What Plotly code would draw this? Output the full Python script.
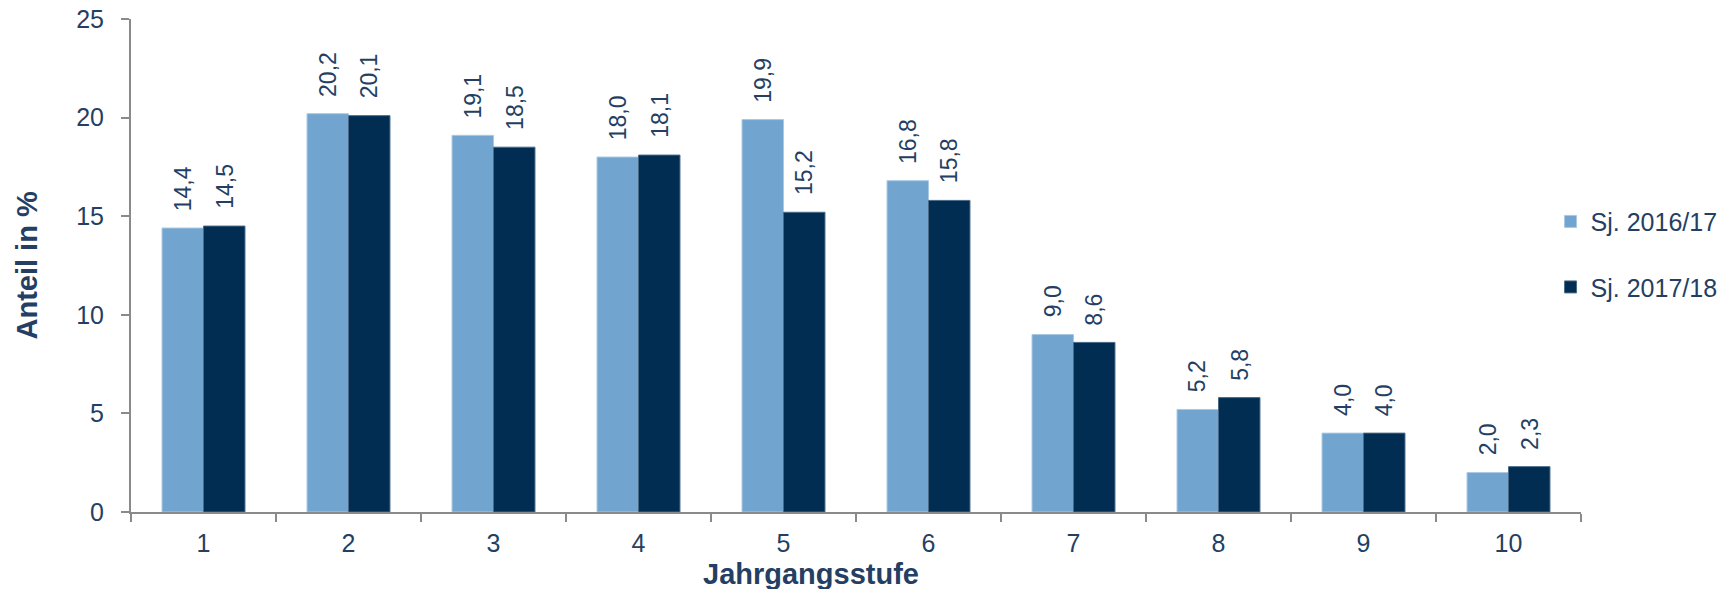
import plotly.graph_objects as go

categories = ["1", "2", "3", "4", "5", "6", "7", "8", "9", "10"]
series_names = ["Sj. 2016/17", "Sj. 2017/18"]
values_1617 = [14.4, 20.2, 19.1, 18.0, 19.9, 16.8, 9.0, 5.2, 4.0, 2.0]
values_1718 = [14.5, 20.1, 18.5, 18.1, 15.2, 15.8, 8.6, 5.8, 4.0, 2.3]
y_ticks = [0, 5, 10, 15, 20, 25]
x_title = "Jahrgangsstufe"
y_title = "Anteil in %"

LIGHT = "#71A5CF"
DARK = "#012D52"
TEXT = "#243F63"
AXIS = "#8A8A8A"
FONT = "Liberation Sans, Arial, sans-serif"

def fmt(v):
    return f"{v:.1f}".replace(".", ",")

fig = go.Figure()
for name, vals, col, lc in [(series_names[0], values_1617, LIGHT, "#A9C9E3"),
                            (series_names[1], values_1718, DARK, "#4A6A88")]:
    fig.add_trace(go.Bar(
        x=categories, y=vals, name=name, legendgroup=name,
        marker=dict(color=col, line=dict(color=lc, width=1)),
        hoverinfo="skip",
    ))

annotations = []
bar_off = 0.143
for i, c in enumerate(categories):
    for vals, off in [(values_1617, -bar_off), (values_1718, bar_off)]:
        annotations.append(dict(
            x=i + off, y=vals[i], xref="x", yref="y",
            text=fmt(vals[i]), textangle=-90, showarrow=False,
            xanchor="center", yanchor="bottom", yshift=15,
            font=dict(size=23, color=TEXT, family=FONT),
        ))

annotations.append(dict(
    x=0, y=0.5, xref="paper", yref="paper", xshift=-105,
    text=f"<b>{y_title}</b>", textangle=-90, showarrow=False,
    xanchor="center", yanchor="middle",
    font=dict(size=29, color=TEXT, family=FONT),
))
annotations.append(dict(
    x=0.469, y=0, xref="paper", yref="paper", yshift=-62,
    text=f"<b>{x_title}</b>", showarrow=False,
    xanchor="center", yanchor="middle",
    font=dict(size=29, color=TEXT, family=FONT),
))

fig.update_layout(
    template="none",
    width=1736, height=589,
    margin=dict(l=131, r=155, t=19, b=77, autoexpand=False),
    paper_bgcolor="white", plot_bgcolor="white",
    barmode="group", bargap=0.428, bargroupgap=0,
    font=dict(family=FONT, color=TEXT, size=25),
    showlegend=True,
    legend=dict(
        x=0.979, y=0.523, xanchor="left", yanchor="middle",
        xref="paper", yref="paper",
        font=dict(size=25, color=TEXT, family=FONT),
        tracegroupgap=30, traceorder="grouped",
        bgcolor="rgba(0,0,0,0)", borderwidth=0,
    ),
    annotations=annotations,
    xaxis=dict(
        type="category", showline=True, linecolor=AXIS, linewidth=2,
        ticks="outside", tickson="boundaries", ticklen=8, tickcolor=AXIS, tickwidth=2,
        showgrid=False, zeroline=False, automargin=False,
        tickfont=dict(size=25, color=TEXT, family=FONT),
        ticklabelstandoff=8,
    ),
    yaxis=dict(
        range=[0, 25], tickvals=y_ticks, showline=True, linecolor=AXIS, linewidth=2,
        ticks="outside", ticklen=8, tickcolor=AXIS, tickwidth=2,
        showgrid=False, zeroline=False, automargin=False,
        tickfont=dict(size=25, color=TEXT, family=FONT),
        ticklabelstandoff=12,
    ),
)

fig.write_html("out.html")
